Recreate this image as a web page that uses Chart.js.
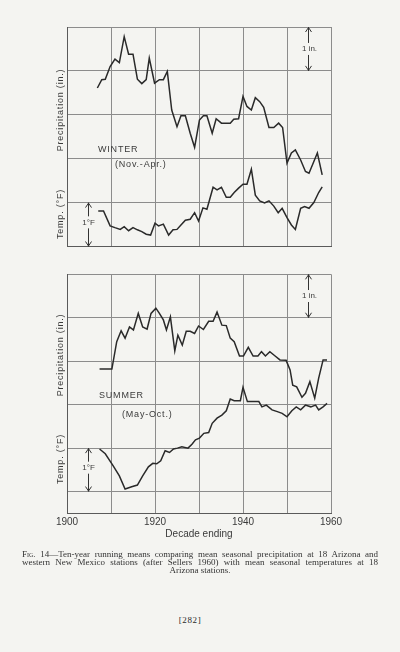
<!DOCTYPE html>
<html><head><meta charset="utf-8">
<script src="https://cdn.jsdelivr.net/npm/chart.js@4.4.1/dist/chart.umd.min.js"></script>
<style>
html,body{margin:0;padding:0;background:#f4f4f1;}
#page{position:relative;width:400px;height:652px;overflow:hidden;background:#f4f4f1;font-family:"Liberation Sans",Arial,sans-serif;color:#333;}
canvas{position:absolute;left:0;}
.lbl{position:absolute;white-space:nowrap;font-size:9px;letter-spacing:0.8px;color:#3a3a3a;line-height:1;}
.rot{transform:translate(-50%,-50%) rotate(-90deg);}
.cap{position:absolute;left:22px;width:356px;font-family:"Liberation Serif","Times New Roman",serif;font-size:9px;line-height:1;color:#333;text-align:justify;text-align-last:justify;white-space:nowrap;}
</style></head>
<body><div id="page">
<canvas id="winter" width="400" height="262" style="top:0px;width:400px;height:262px"></canvas>
<canvas id="summer" width="400" height="300" style="top:262px;width:400px;height:300px"></canvas>

<div class="lbl rot" style="left:60px;top:110px">Precipitation (in.)</div>
<div class="lbl rot" style="left:60px;top:214px">Temp. (°F)</div>
<div class="lbl" style="left:98px;top:145px">WINTER</div>
<div class="lbl" style="left:115px;top:160px">(Nov.-Apr.)</div>

<div class="lbl rot" style="left:60px;top:355px">Precipitation (in.)</div>
<div class="lbl rot" style="left:60px;top:459px">Temp. (°F)</div>
<div class="lbl" style="left:99px;top:391px">SUMMER</div>
<div class="lbl" style="left:122px;top:410px">(May-Oct.)</div>

<div class="cap" style="top:549.5px"><span style="font-variant:small-caps">Fig.</span> 14—Ten-year running means comparing mean seasonal precipitation at 18 Arizona and</div>
<div class="cap" style="top:557.5px">western New Mexico stations (after Sellers 1960) with mean seasonal temperatures at 18</div>
<div class="cap" style="top:565.5px;text-align:center;text-align-last:center">Arizona stations.</div>
<div class="cap" style="top:615.5px;text-align:center;text-align-last:center;left:150px;width:80px;letter-spacing:0.6px;color:#2a2a2a">[282]</div>
</div>
<script>
// x positions (decade ending year) and tick labels
const decadeTicks = [1900, 1910, 1920, 1930, 1940, 1950, 1960];
const labeledYears = [1900, 1920, 1940, 1960];

// Values are read in grid units: 1 grid cell = 1 inch (precipitation) or 1 °F (temperature)
const winterPrecipYears = [1906.9,1907.9,1908.7,1909.8,1910.9,1911.9,1913.0,1914.0,1915.0,1916.0,1917.0,1918.0,1918.7,1919.9,1921.0,1921.9,1922.8,1923.8,1925.0,1925.9,1926.9,1928.0,1929.0,1930.1,1931.0,1931.8,1933.0,1933.9,1935.1,1936.2,1937.1,1937.9,1939.0,1940.0,1940.9,1941.9,1942.8,1943.8,1944.7,1945.9,1947.0,1948.1,1949.0,1950.0,1951.0,1951.9,1953.1,1954.2,1955.0,1956.9,1958.0];
const winterPrecipValues = [3.61,3.80,3.81,4.10,4.27,4.19,4.78,4.38,4.38,3.81,3.71,3.80,4.29,3.72,3.80,3.80,3.99,3.11,2.73,2.98,2.98,2.58,2.26,2.88,2.98,2.98,2.58,2.91,2.81,2.81,2.81,2.90,2.91,3.42,3.19,3.11,3.39,3.30,3.17,2.71,2.71,2.81,2.71,1.90,2.13,2.20,1.97,1.71,1.67,2.13,1.63];

const winterTempYears = [1907.1,1908.3,1909.8,1910.9,1912.1,1913.0,1914.0,1915.0,1916.0,1917.0,1918.0,1919.0,1920.0,1920.8,1921.9,1923.1,1924.1,1925.0,1925.9,1926.9,1928.0,1929.0,1929.9,1930.9,1931.8,1933.2,1934.1,1935.1,1936.2,1937.1,1938.0,1939.0,1940.0,1940.9,1941.9,1942.8,1943.8,1944.9,1945.9,1947.0,1948.0,1948.9,1950.0,1951.0,1951.9,1953.1,1954.0,1955.0,1956.1,1957.2,1958.0];
const winterTempValues = [0.81,0.81,0.47,0.43,0.39,0.45,0.36,0.43,0.38,0.34,0.28,0.26,0.53,0.47,0.51,0.26,0.38,0.39,0.49,0.60,0.62,0.77,0.58,0.88,0.85,1.35,1.29,1.35,1.12,1.12,1.23,1.33,1.42,1.42,1.76,1.17,1.04,0.99,1.04,0.92,0.77,0.87,0.66,0.49,0.39,0.87,0.91,0.87,1.00,1.23,1.36];

const summerPrecipYears = [1907.4,1910.2,1911.3,1912.3,1913.2,1914.2,1915.1,1916.2,1917.2,1918.2,1919.1,1920.2,1921.0,1921.9,1922.6,1923.5,1924.5,1925.2,1926.2,1927.1,1928.0,1929.0,1929.9,1931.0,1932.2,1933.2,1934.1,1935.2,1936.2,1937.1,1938.0,1939.2,1940.1,1941.2,1942.3,1943.4,1944.2,1945.1,1946.1,1947.3,1948.4,1949.8,1950.7,1951.3,1952.2,1953.4,1954.2,1955.2,1956.3,1957.2,1958.2,1959.1];
const summerPrecipValues = [2.82,2.82,3.45,3.70,3.53,3.79,3.72,4.10,3.79,3.74,4.10,4.22,4.10,3.95,3.72,4.02,3.24,3.60,3.37,3.69,3.69,3.64,3.81,3.73,3.92,3.92,4.13,3.83,3.82,3.53,3.45,3.12,3.12,3.32,3.12,3.12,3.22,3.12,3.22,3.12,3.03,3.02,2.80,2.45,2.41,2.17,2.26,2.53,2.15,2.61,3.03,3.03];

const summerTempYears = [1907.4,1908.7,1910.5,1911.9,1913.2,1914.7,1916.0,1917.2,1918.5,1919.5,1920.4,1921.3,1922.3,1923.3,1924.2,1925.1,1926.1,1927.5,1928.4,1929.2,1930.1,1931.1,1932.2,1933.0,1934.1,1935.2,1936.2,1937.1,1938.0,1939.4,1940.0,1941.0,1942.4,1943.6,1944.3,1945.3,1946.6,1947.8,1948.9,1950.0,1951.1,1952.1,1953.1,1954.2,1955.4,1956.5,1957.2,1958.2,1959.1];
const summerTempValues = [0.98,0.87,0.59,0.36,0.06,0.11,0.15,0.36,0.57,0.65,0.64,0.71,0.94,0.90,0.98,1.00,1.03,1.00,1.09,1.19,1.23,1.34,1.36,1.57,1.69,1.76,1.86,2.13,2.09,2.09,2.40,2.07,2.07,2.07,1.95,1.99,1.88,1.84,1.80,1.72,1.86,1.95,1.88,1.99,1.95,1.99,1.88,1.95,2.03];

const winterGridValues = [0, 1, 2, 3, 4, 5];
const summerGridValues = [-0.5, 0, 1, 2, 3, 4, 5];

const LINE = '#2a2a2a', GRID = '#8c8c8c', FRAME = '#5a5a5a', TEXT = '#3a3a3a';

const spanPlugin = {
  id: 'spans',
  afterDatasetsDraw(chart, args, opts) {
    const {ctx, scales: {x, y}} = chart;
    (opts.items || []).forEach(s => {
      const px = Math.round(x.getPixelForValue(s.year)) + 0.5;
      const top = y.getPixelForValue(s.to), bot = y.getPixelForValue(s.from);
      const mid = y.getPixelForValue(s.labelAt);
      ctx.save();
      ctx.strokeStyle = '#333'; ctx.lineWidth = 1;
      ctx.beginPath();
      ctx.moveTo(px, top); ctx.lineTo(px, mid - 6);
      ctx.moveTo(px, mid + 6); ctx.lineTo(px, bot);
      ctx.moveTo(px - 3, top + 5); ctx.lineTo(px, top + 0.5); ctx.lineTo(px + 3, top + 5);
      ctx.moveTo(px - 3, bot - 5); ctx.lineTo(px, bot - 0.5); ctx.lineTo(px + 3, bot - 5);
      ctx.stroke();
      ctx.fillStyle = TEXT; ctx.font = '8px "Liberation Sans", Arial, sans-serif';
      ctx.textAlign = 'center'; ctx.textBaseline = 'middle';
      ctx.fillText(s.label, px + (s.dx || 0), mid);
      ctx.restore();
    });
  }
};

function series(xs, ys) { return xs.map((v, i) => ({x: v, y: ys[i]})); }

function makeChart(id, gridValues, datasets, spans, showX, padding) {
  return new Chart(document.getElementById(id), {
    type: 'line',
    data: {datasets: datasets.map(d => ({
      data: d, borderColor: LINE, borderWidth: 1.5, pointRadius: 0, tension: 0, fill: false, borderJoinStyle: 'miter'
    }))},
    options: {
      responsive: false, animation: false, events: [],
      layout: {padding},
      plugins: {legend: {display: false}, tooltip: {enabled: false}, spans: {items: spans}},
      scales: {
        x: {
          type: 'linear', min: decadeTicks[0], max: decadeTicks[decadeTicks.length - 1],
          afterBuildTicks: s => { s.ticks = decadeTicks.map(v => ({value: v})); },
          afterFit: s => { s.height = showX ? 27 : 0; },
          grid: {color: GRID, lineWidth: 1, drawTicks: false},
          border: {color: FRAME, width: 1},
          ticks: {display: showX, padding: 3, autoSkip: false, maxRotation: 0, color: TEXT,
                  font: {family: '"Liberation Sans", Arial, sans-serif', size: 10},
                  callback: v => labeledYears.includes(v) ? String(v) : ''},
          title: {display: showX, text: 'Decade ending', color: TEXT, padding: 0,
                  font: {family: '"Liberation Sans", Arial, sans-serif', size: 10}}
        },
        y: {
          type: 'linear', min: gridValues[0], max: gridValues[gridValues.length - 1],
          afterBuildTicks: s => { s.ticks = gridValues.map(v => ({value: v})); },
          afterFit: s => { s.width = 0; },
          grid: {color: GRID, lineWidth: 1, drawTicks: false},
          border: {color: FRAME, width: 1},
          ticks: {display: false}
        }
      }
    },
    plugins: [spanPlugin]
  });
}

makeChart('winter', winterGridValues,
  [series(winterPrecipYears, winterPrecipValues), series(winterTempYears, winterTempValues)],
  [{year: 1954.7, from: 4, to: 5, labelAt: 4.5, label: '1 in.', dx: 1},
   {year: 1904.8, from: 0, to: 1, labelAt: 0.55, label: '1°F'}],
  false, {left: 67, right: 69, top: 27, bottom: 15.5});

makeChart('summer', summerGridValues,
  [series(summerPrecipYears, summerPrecipValues), series(summerTempYears, summerTempValues)],
  [{year: 1954.7, from: 4, to: 5, labelAt: 4.5, label: '1 in.', dx: 1},
   {year: 1904.8, from: 0, to: 1, labelAt: 0.55, label: '1°F'}],
  true, {left: 67, right: 69, top: 12.3, bottom: 21.7});
</script>
</body></html>
